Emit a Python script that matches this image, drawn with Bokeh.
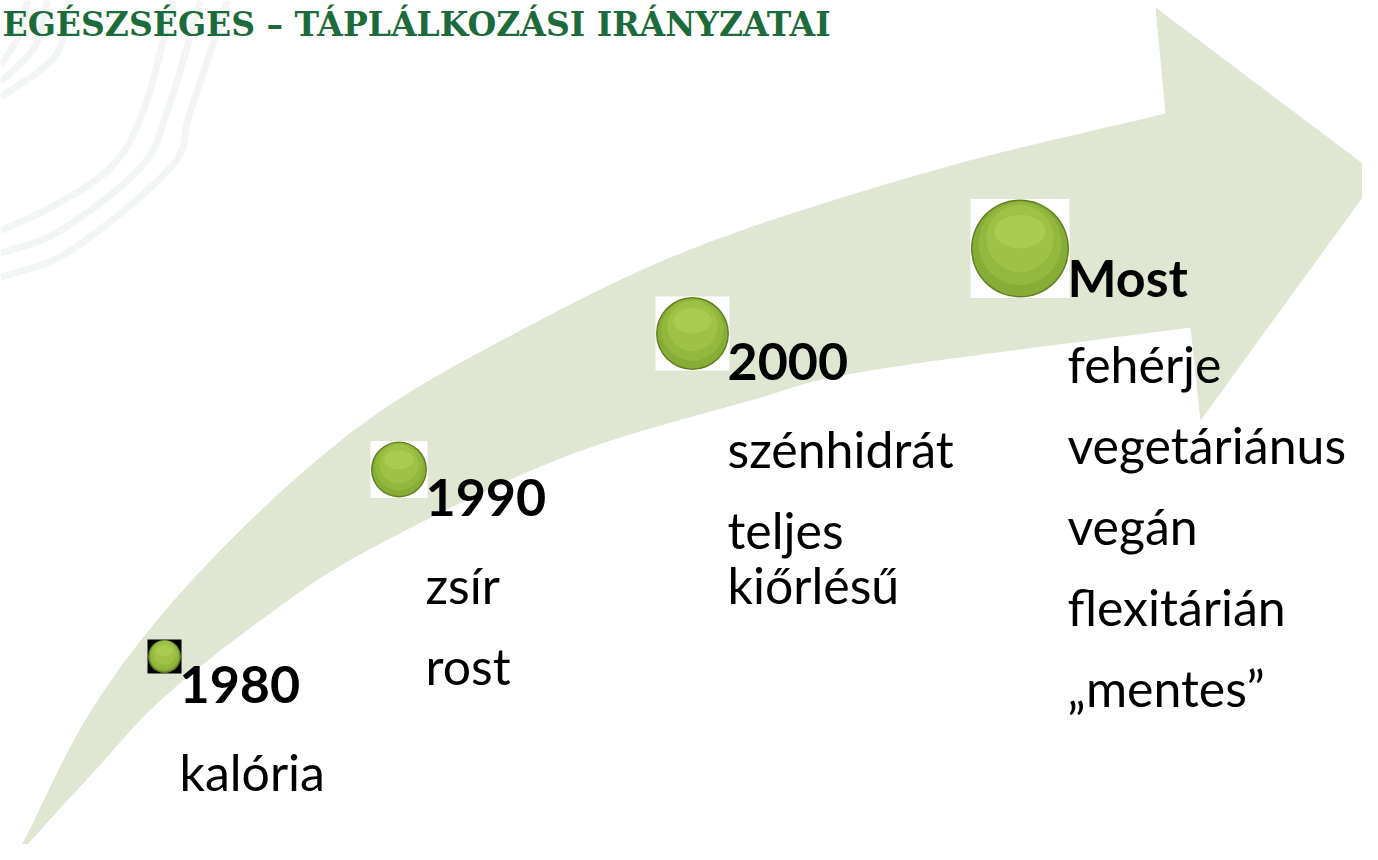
import numpy as np
from bokeh.plotting import figure
from bokeh.models import Range1d, ColumnDataSource
from bokeh.core.properties import value
from bokeh.embed import file_html
from bokeh.resources import INLINE

# ---------------- data ----------------
periods = ["1980", "1990", "2000", "Most"]
trends = [
    ["kalória"],
    ["zsír", "rost"],
    ["szénhidrát", "teljes kiőrlésű"],
    ["fehérje", "vegetáriánus", "vegán", "flexitárián", "„mentes”"],
]
title_text = "EGÉSZSÉGES – TÁPLÁLKOZÁSI IRÁNYZATAI"

# ---------------- layout / style ----------------
anchor_x = [182, 428, 730, 1070]      # left edge of the period label (px)
anchor_y = [705, 518, 382, 297]       # baseline of the period label (px)
sphere_d = [34, 57, 74, 99]           # sphere diameters (px)
square_col = ["#000000", "#ffffff", "#ffffff", "#ffffff"]
ARROW = "#dfe7d2"
FONT = "Lato"
YEAR_SIZE, ITEM_SIZE, TITLE_SIZE = 52, 50, 33
BASE_FIX = 0.40          # svg text baseline correction (fraction of font size)
X_FIX = -3

W, H = 1362, 844
p = figure(width=W, height=H, x_range=Range1d(0, W), y_range=Range1d(H, 0),
           output_backend="svg", toolbar_location=None, min_border=0)
p.axis.visible = False
p.grid.visible = False
p.outline_line_color = None
p.background_fill_color = "white"
p.border_fill_color = "white"


def catmull(pts, n=30):
    pts = np.asarray(pts, float)
    ext = np.vstack([2 * pts[0] - pts[1], pts, 2 * pts[-1] - pts[-2]])
    out = []
    for i in range(1, len(ext) - 2):
        p0, p1, p2, p3 = ext[i - 1], ext[i], ext[i + 1], ext[i + 2]
        t = np.linspace(0, 1, n, endpoint=False)[:, None]
        seg = 0.5 * ((2 * p1) + (-p0 + p2) * t + (2 * p0 - 5 * p1 + 4 * p2 - p3) * t ** 2
                     + (-p0 + 3 * p1 - 3 * p2 + p3) * t ** 3)
        out.append(seg)
    out.append(pts[-1][None, :])
    return np.vstack(out)


# faint decorative background curves (top-left)
deco = [
    [(27, 0), (18, 35), (0, 65)],
    [(47, 0), (35, 45), (0, 82)],
    [(68, 0), (55, 55), (0, 97)],
    [(173, 0), (143, 110), (110, 167), (50, 207), (0, 230)],
    [(200, 0), (167, 110), (140, 167), (60, 230), (0, 253)],
    [(227, 0), (190, 110), (170, 167), (70, 250), (0, 277)],
]
for d in deco:
    c = catmull(d)
    p.line(c[:, 0], c[:, 1], line_color="#f2f6f3", line_width=7)

# curved arrow
upper = catmull([(15, 857), (97, 700), (210, 560), (360, 425), (520, 330), (700, 245),
                 (940, 168), (1165, 113)])
lower = catmull([(15, 857), (90, 775), (160, 700), (260, 620), (367, 550), (560, 458),
                 (750, 400), (870, 370), (1190, 327)])
head = np.array([(1190, 327), (1200, 420), (1378, 175), (1155, 7), (1165, 113)])
outline = np.vstack([lower, head, upper[::-1]])
p.patch(outline[:, 0], outline[:, 1], fill_color=ARROW, line_color=None)

# title
p.text(x=[2], y=[37 - BASE_FIX * TITLE_SIZE], text=[title_text],
       text_font=value("DejaVu Serif"), text_font_style="bold",
       text_font_size=f"{TITLE_SIZE}px", text_color="#1c6b3a",
       text_baseline="alphabetic", text_align="left")

# spheres
cx = [ax - 1 - d / 2 for ax, d in zip(anchor_x, sphere_d)]
cy = [ay - 49 for ay in anchor_y]
src = ColumnDataSource(dict(
    x=cx, y=cy, sq=square_col, side=sphere_d,
    s1=[d - 1 for d in sphere_d], s2=[d - 4 for d in sphere_d],
    s3=[d * 0.84 for d in sphere_d], y3=[y - d * 0.05 for y, d in zip(cy, sphere_d)],
    s4=[d * 0.68 for d in sphere_d], y4=[y - d * 0.10 for y, d in zip(cy, sphere_d)],
    hw=[d * 0.52 for d in sphere_d], hh=[d * 0.34 for d in sphere_d],
    hy=[y - d * 0.17 for y, d in zip(cy, sphere_d)],
))
p.rect(x="x", y="y", width="side", height="side", fill_color="sq", line_color=None, source=src)
p.scatter(x="x", y="y", size="s1", marker="circle", fill_color="#627f1f",
          line_color=None, source=src)
p.scatter(x="x", y="y", size="s2", marker="circle", fill_color="#88ad37",
          line_color=None, source=src)
p.scatter(x="x", y="y3", size="s3", marker="circle", fill_color="#93b83e",
          line_color=None, source=src)
p.scatter(x="x", y="y4", size="s4", marker="circle", fill_color="#9dc246",
          line_color=None, source=src)
p.ellipse(x="x", y="hy", width="hw", height="hh", fill_color="#b0d057",
          fill_alpha=0.6, line_color=None, source=src)

# period labels
p.text(x=[a + X_FIX for a in anchor_x], y=[a - BASE_FIX * YEAR_SIZE for a in anchor_y],
       text=periods, text_font=value(FONT), text_font_style="bold",
       text_font_size=f"{YEAR_SIZE}px", text_color="black", text_baseline="alphabetic")

# trend items
ix, iy, it = [], [], []
for ax, ay, items in zip(anchor_x, anchor_y, trends):
    y = ay + 86
    for item in items:
        lines = item.split(" ") if len(item) > 12 and " " in item else [item]
        for j, ln in enumerate(lines):
            ix.append(ax + X_FIX)
            iy.append(y - BASE_FIX * ITEM_SIZE)
            it.append(ln)
            if j < len(lines) - 1:
                y += 55
        y += 81
p.text(x=ix, y=iy, text=it, text_font=value(FONT), text_font_size=f"{ITEM_SIZE}px",
       text_color="black", text_baseline="alphabetic")

open("out.html", "w").write(file_html(p, INLINE))
